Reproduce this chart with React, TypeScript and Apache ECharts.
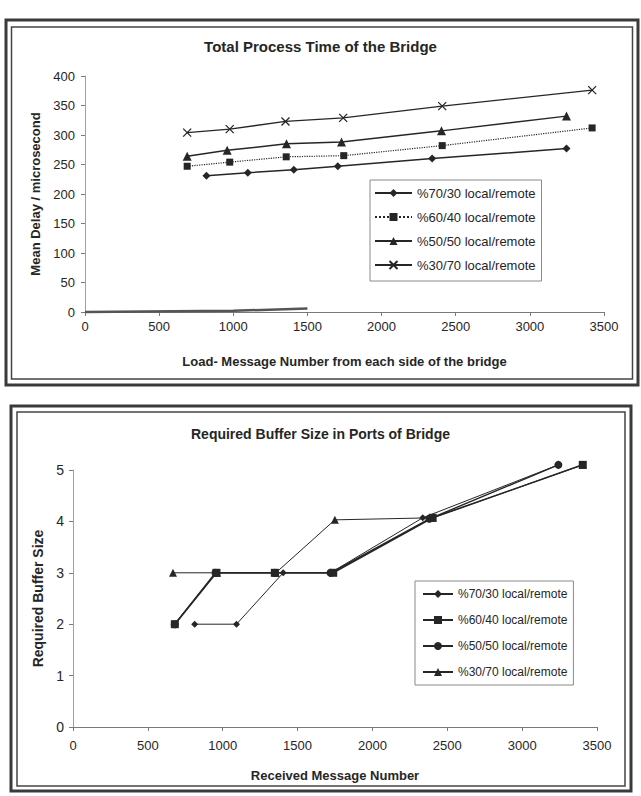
import React, { useEffect, useRef } from "react";
import * as echarts from "echarts";

// ---------- shared names ----------
const SERIES_NAMES = [
  "%70/30 local/remote",
  "%60/40 local/remote",
  "%50/50 local/remote",
  "%30/70 local/remote",
];

// ---------- Chart 1: Total Process Time of the Bridge ----------
const TOP_TITLE = "Total Process Time of the Bridge";
const TOP_X_NAME = "Load- Message Number from each side of the bridge";
const TOP_Y_NAME = "Mean Delay / microsecond";
const delay7030 = [[819, 231], [1098, 236], [1408, 241], [1705, 247], [2341, 260], [3247, 277]];
const delay6040 = [[689, 247], [976, 254], [1357, 263], [1745, 265], [2409, 282], [3420, 312]];
const delay5050 = [[689, 264], [959, 274], [1359, 285], [1730, 288], [2404, 307], [3247, 332]];
const delay3070 = [[689, 304], [976, 310], [1352, 323], [1741, 329], [2409, 349], [3420, 376]];
const delayBaseTrace = [[0, 0], [1000, 2], [1500, 6]];

// ---------- Chart 2: Required Buffer Size in Ports of Bridge ----------
const BOT_TITLE = "Required Buffer Size in Ports of Bridge";
const BOT_X_NAME = "Received Message Number";
const BOT_Y_NAME = "Required Buffer Size";
const buf7030 = [[813, 2], [1092, 2], [1404, 3], [1720, 3], [2336, 4.07], [3242, 5.1]];
const buf6040 = [[680, 2], [958, 3], [1348, 3], [1738, 3], [2402, 4.07], [3405, 5.1]];
const buf5050 = [[680, 2], [952, 3], [1348, 3], [1720, 3], [2380, 4.05], [3242, 5.1]];
const buf3070 = [[668, 3], [962, 3], [1355, 3], [1749, 4.03], [2402, 4.07], [3405, 5.1]];

const FONT = "'Liberation Sans', Arial, sans-serif";
const INK = "#262626";
const AXIS = "#7a7a7a";
const CROSS = "path://M0,0L10,10M10,0L0,10";
const plain = (v: number) => String(v);

function frame(x1: number, y1: number, x2: number, y2: number, ix1: number, iy1: number, ix2: number, iy2: number) {
  return [
    {
      type: "rect",
      shape: { x: x1, y: y1, width: x2 - x1, height: y2 - y1 },
      style: { fill: "none", stroke: "#3a3a3a", lineWidth: 3 },
      silent: true,
    },
    {
      type: "rect",
      shape: { x: ix1, y: iy1, width: ix2 - ix1, height: iy2 - iy1 },
      style: { fill: "none", stroke: "#444", lineWidth: 1.5 },
      silent: true,
    },
  ];
}

function lineSeries(name: string, data: number[][], symbol: string, size: number, width: number, type: string = "solid") {
  return {
    name,
    type: "line",
    data,
    symbol,
    symbolSize: size,
    clip: false,
    lineStyle: { color: INK, width, type },
    itemStyle: { color: INK, borderColor: INK, borderWidth: symbol === CROSS ? 1.3 : 0 },
    emphasis: { disabled: true },
  };
}

function buildTop() {
  return {
    animation: false,
    backgroundColor: "#fff",
    textStyle: { fontFamily: FONT },
    title: {
      text: TOP_TITLE,
      left: "center",
      top: 39,
      padding: 0,
      textStyle: { fontSize: 15, fontWeight: "bold", color: INK, fontFamily: FONT },
    },
    grid: { left: 85, right: 37, top: 76, bottom: 83 },
    legend: {
      orient: "vertical",
      left: 370,
      top: 180,
      data: SERIES_NAMES,
      itemWidth: 37,
      itemHeight: 10,
      itemGap: 10,
      padding: [6, 6, 9, 4],
      borderColor: "#8a8a8a",
      borderWidth: 1,
      backgroundColor: "#fff",
      textStyle: { fontSize: 13, color: INK, lineHeight: 14, fontFamily: FONT },
    },
    xAxis: {
      type: "value",
      min: 0,
      max: 3500,
      interval: 500,
      axisLine: { show: true, lineStyle: { color: AXIS, width: 1 } },
      axisTick: { show: true, length: 4, lineStyle: { color: AXIS } },
      splitLine: { show: false },
      axisLabel: { fontSize: 13, color: INK, margin: 8, fontFamily: FONT, formatter: plain },
      name: TOP_X_NAME,
      nameLocation: "middle",
      nameGap: 43,
      nameTextStyle: { fontSize: 13, fontWeight: "bold", color: INK, fontFamily: FONT },
    },
    yAxis: {
      type: "value",
      min: 0,
      max: 400,
      interval: 50,
      axisLine: { show: true, lineStyle: { color: "#a0a0a0", width: 1 } },
      axisTick: { show: true, length: 4, lineStyle: { color: AXIS } },
      splitLine: { show: false },
      axisLabel: { fontSize: 13, color: INK, margin: 10, fontFamily: FONT, formatter: plain },
      name: TOP_Y_NAME,
      nameLocation: "middle",
      nameGap: 42,
      nameTextStyle: { fontSize: 13, fontWeight: "bold", color: INK, fontFamily: FONT },
    },
    graphic: frame(6, 20, 638, 385, 11.5, 27, 632.5, 379),
    series: [
      lineSeries(SERIES_NAMES[0], delay7030, "diamond", 8, 1.5),
      lineSeries(SERIES_NAMES[1], delay6040, "rect", 7, 1.2, "dotted"),
      lineSeries(SERIES_NAMES[2], delay5050, "triangle", 9, 1.5),
      lineSeries(SERIES_NAMES[3], delay3070, CROSS, 8, 1.3),
      {
        type: "line",
        data: delayBaseTrace,
        symbol: "none",
        clip: false,
        lineStyle: { color: "#555", width: 2.5 },
        emphasis: { disabled: true },
      },
    ],
  };
}

function buildBottom() {
  return {
    animation: false,
    backgroundColor: "#fff",
    textStyle: { fontFamily: FONT },
    title: {
      text: BOT_TITLE,
      left: "center",
      top: 32,
      padding: 0,
      textStyle: { fontSize: 14, fontWeight: "bold", color: INK, fontFamily: FONT },
    },
    grid: { left: 73, right: 44, top: 75, bottom: 69 },
    legend: {
      orient: "vertical",
      left: 415,
      top: 186,
      data: SERIES_NAMES,
      itemWidth: 30,
      itemHeight: 10,
      itemGap: 12,
      padding: [6, 6, 6, 7],
      borderColor: "#8a8a8a",
      borderWidth: 1,
      backgroundColor: "#fff",
      textStyle: { fontSize: 12, color: INK, lineHeight: 14, fontFamily: FONT },
    },
    xAxis: {
      type: "value",
      min: 0,
      max: 3500,
      interval: 500,
      axisLine: { show: true, lineStyle: { color: AXIS, width: 1 } },
      axisTick: { show: true, length: 4, lineStyle: { color: AXIS } },
      splitLine: { show: false },
      axisLabel: { fontSize: 13, color: INK, margin: 12, fontFamily: FONT, formatter: plain },
      name: BOT_X_NAME,
      nameLocation: "middle",
      nameGap: 42,
      nameTextStyle: { fontSize: 13, fontWeight: "bold", color: INK, fontFamily: FONT },
    },
    yAxis: {
      type: "value",
      min: 0,
      max: 5,
      interval: 1,
      axisLine: { show: true, lineStyle: { color: "#a0a0a0", width: 1 } },
      axisTick: { show: true, length: 4, lineStyle: { color: AXIS } },
      splitLine: { show: false },
      axisLabel: { fontSize: 14, color: INK, margin: 9, fontFamily: FONT, formatter: plain },
      name: BOT_Y_NAME,
      nameLocation: "middle",
      nameGap: 22,
      nameTextStyle: { fontSize: 14, fontWeight: "bold", color: INK, fontFamily: FONT },
    },
    graphic: frame(11, 11, 631, 396, 17, 17, 625, 391),
    series: [
      lineSeries(SERIES_NAMES[0], buf7030, "diamond", 7, 1),
      lineSeries(SERIES_NAMES[1], buf6040, "rect", 8, 1.6),
      lineSeries(SERIES_NAMES[2], buf5050, "circle", 8, 1.4),
      lineSeries(SERIES_NAMES[3], buf3070, "triangle", 8, 1),
    ],
  };
}

export default function App() {
  const topRef = useRef<HTMLDivElement>(null);
  const botRef = useRef<HTMLDivElement>(null);

  useEffect(() => {
    const c1 = echarts.init(topRef.current as HTMLDivElement, null, { renderer: "svg" });
    c1.setOption(buildTop() as any);
    const c2 = echarts.init(botRef.current as HTMLDivElement, null, { renderer: "svg" });
    c2.setOption(buildBottom() as any);
    return () => {
      c1.dispose();
      c2.dispose();
    };
  }, []);

  return (
    <div style={{ position: "absolute", left: 0, top: 0, width: 641, height: 796, background: "#fff" }}>
      <div ref={topRef} style={{ position: "absolute", left: 0, top: 0, width: 641, height: 395 }} />
      <div ref={botRef} style={{ position: "absolute", left: 0, top: 395, width: 641, height: 401 }} />
    </div>
  );
}
